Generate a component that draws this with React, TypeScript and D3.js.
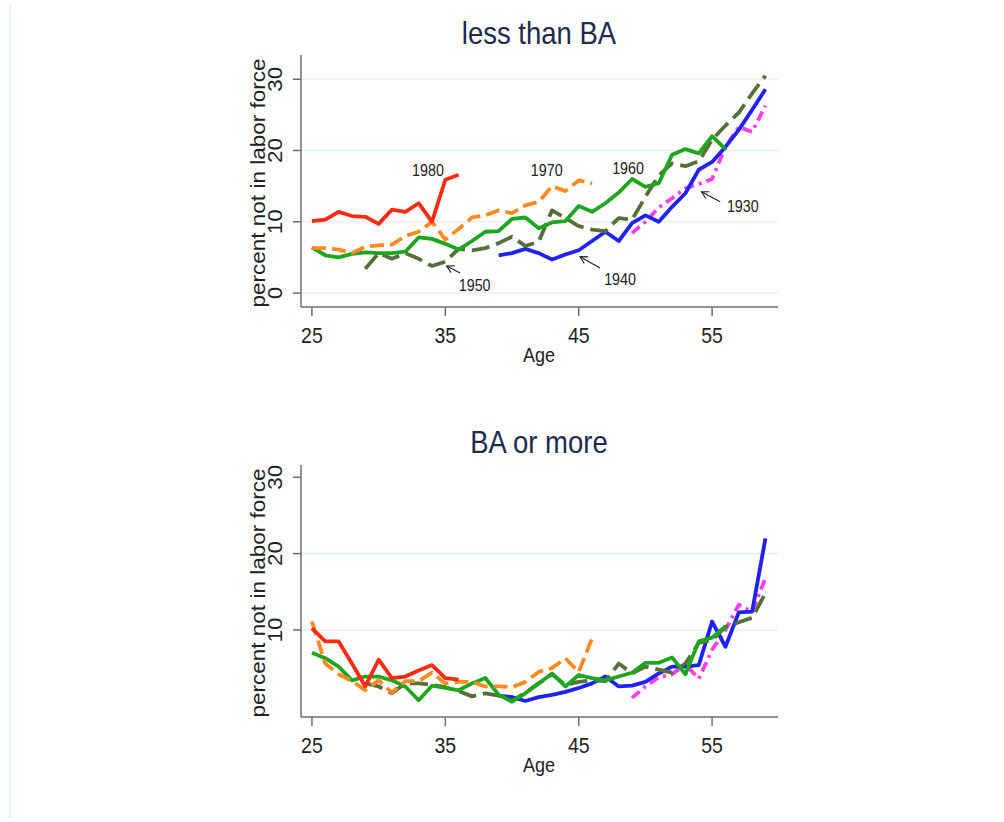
import * as d3 from 'd3';

// cohorts, drawn in this order (later ones on top)
const cohorts = ['1930', '1940', '1950', '1960', '1970', '1980'];
const cohortColors = ['#ff3cf0', '#1f22f2', '#56703a', '#1fa61f', '#ff8a1f', '#ff2a14'];
const cohortDashes: (string | null)[] = ['10 5 3 5', null, '18 7', null, '14 6', null];

// first age observed for each cohort
const startAges = [49, 39, 29, 25, 25, 25];

// less than BA: percent not in labor force, by age
const lessBA1930 = [8.4, 10.0, 12.0, 13.3, 14.7, 15.3, 16.0, 20.5, 23.3, 22.6, 26.3];
const lessBA1940 = [5.3, 5.6, 6.2, 5.6, 4.7, 5.4, 6.0, 7.3, 8.6, 7.3, 9.8, 10.9, 10.0, 12.1, 14.0, 17.3, 18.4, 20.5, 22.9, 25.7, 28.6];
const lessBA1950 = [3.4, 5.6, 4.8, 5.6, 4.8, 3.8, 4.4, 6.2, 6.0, 6.3, 7.0, 7.9, 6.6, 7.2, 11.6, 10.5, 9.4, 8.9, 8.7, 10.5, 10.3, 13.5, 16.5, 18.2, 17.8, 18.5, 21.5, 23.5, 25.3, 28.0, 30.5];
const lessBA1960 = [6.4, 5.3, 5.0, 5.5, 5.7, 5.6, 5.6, 5.8, 7.8, 7.6, 6.9, 6.1, 7.3, 8.6, 8.7, 10.4, 10.6, 9.1, 9.9, 10.1, 12.2, 11.4, 12.6, 14.1, 16.0, 14.9, 15.4, 19.4, 20.2, 19.6, 22.0, 20.2];
const lessBA1970 = [6.3, 6.3, 6.1, 5.6, 6.5, 6.7, 6.8, 8.0, 8.6, 10.0, 7.5, 9.0, 10.6, 10.9, 11.6, 11.2, 12.3, 12.8, 15.0, 14.3, 15.8, 15.4];
const lessBA1980 = [10.1, 10.3, 11.4, 10.8, 10.7, 9.7, 11.7, 11.4, 12.6, 10.0, 15.9, 16.6];

// BA or more
const ba1930 = [1.1, 2.6, 3.8, 4.2, 5.5, 3.6, 7.4, 10.0, 13.3, 12.4, 16.8];
const ba1940 = [1.4, 1.2, 0.7, 1.2, 1.5, 1.9, 2.4, 3.0, 3.9, 2.6, 2.7, 3.2, 4.3, 5.2, 5.2, 5.4, 11.1, 7.8, 12.3, 12.4, 22.0];
const ba1950 = [3.0, 2.6, 1.7, 3.0, 3.0, 2.8, 2.5, 2.0, 1.3, 1.7, 1.4, 0.7, 1.8, 3.0, 4.2, 2.8, 3.2, 3.4, 3.3, 5.6, 4.3, 5.2, 4.8, 4.4, 5.6, 8.3, 8.7, 10.4, 11.0, 11.6, 14.8];
const ba1960 = [7.0, 6.3, 5.2, 3.4, 3.9, 3.9, 3.4, 2.6, 0.8, 2.7, 2.4, 2.1, 3.0, 3.7, 1.5, 0.6, 1.7, 3.0, 4.3, 2.6, 4.1, 3.7, 3.4, 3.9, 4.4, 5.7, 5.7, 6.4, 4.2, 8.5, 9.0, 10.5];
const ba1970 = [11.1, 5.6, 4.2, 3.3, 2.1, 3.4, 1.8, 3.3, 3.3, 4.4, 3.0, 3.2, 3.2, 2.6, 2.6, 2.5, 3.2, 4.5, 5.0, 6.3, 4.5, 8.9];
const ba1980 = [10.2, 8.5, 8.5, 5.6, 2.6, 6.1, 3.7, 3.9, 4.7, 5.4, 3.7, 3.5];

const lessBASeries = [lessBA1930, lessBA1940, lessBA1950, lessBA1960, lessBA1970, lessBA1980];
const baSeries = [ba1930, ba1940, ba1950, ba1960, ba1970, ba1980];

const ageTicks = [25, 35, 45, 55];
const topYTicks = [0, 10, 20, 30];
const bottomYTicks = [10, 20, 30];
const topGrid = [0, 10, 20, 30];
const bottomGrid = [10, 20];

// cohort labels in the upper panel (age, value)
const labelTexts = ['1980', '1970', '1960', '1930', '1940', '1950'];
const labelAges = [33.7, 42.6, 48.7, 57.3, 48.1, 37.2];
const labelValues = [17.3, 17.3, 17.5, 12.2, 1.9, 1.1];
// arrows: tail -> head
const arrowTails = [[55.6, 12.8], [46.6, 3.5], [36.1, 2.8]];
const arrowHeads = [[54.2, 14.2], [45.1, 5.1], [35.1, 3.8]];

const W = 1004;
const H = 822;
const STRETCH = 1.15; // the chart is slightly stretched vertically
const FONT = "'Liberation Sans', Arial, sans-serif";

const x = d3.scaleLinear().domain([24.18, 59.94]).range([301, 778]);

function HText({ px, py, size, children, fill = '#222', anchor = 'middle', dy = '0.35em' }: any) {
  return (
    <text
      transform={`translate(${px},${py}) scale(1,${STRETCH})`}
      textAnchor={anchor}
      dy={dy}
      fontSize={size}
      fontFamily={FONT}
      fill={fill}
    >
      {children}
    </text>
  );
}

function VText({ px, py, size, children, fill = '#222' }: any) {
  return (
    <text
      transform={`translate(${px},${py}) rotate(-90) scale(${STRETCH},1)`}
      textAnchor="middle"
      dy="0.35em"
      fontSize={size}
      fontFamily={FONT}
      fill={fill}
    >
      {children}
    </text>
  );
}

function Panel({ title, titleY, yDomain, yRange, yTicks, grid, series, annotate }: any) {
  const y = d3.scaleLinear().domain(yDomain).range(yRange);
  const [axisBottom, axisTop] = yRange;
  const [x0, x1] = x.range();

  return (
    <g>
      <HText px={539} py={titleY} size={27.5} fill="#1c2b4e" dy="0">{title}</HText>

      {grid.map((v: number) => (
        <line key={'g' + v} x1={x0} x2={x1} y1={y(v)} y2={y(v)} stroke="#e8f1f2" strokeWidth={1.6} />
      ))}

      {series.map((vals: number[], i: number) => {
        const start = startAges[i];
        const line = d3.line<number>()
          .x((_, j) => x(start + j))
          .y(d => y(d));
        return (
          <path
            key={cohorts[i]}
            d={line(vals) || ''}
            fill="none"
            stroke={cohortColors[i]}
            strokeWidth={3.8}
            strokeDasharray={cohortDashes[i] || undefined}
            strokeLinejoin="round"
          />
        );
      })}

      {/* axes */}
      <line x1={x0} x2={x0} y1={axisTop} y2={axisBottom} stroke="#6e6e6e" strokeWidth={1.5} />
      <line x1={x0} x2={x1} y1={axisBottom} y2={axisBottom} stroke="#6e6e6e" strokeWidth={1.5} />
      {yTicks.map((v: number) => (
        <g key={'y' + v}>
          <line x1={x0 - 8} x2={x0} y1={y(v)} y2={y(v)} stroke="#6e6e6e" strokeWidth={1.5} />
          <VText px={275.5} py={y(v)} size={19.5}>{v}</VText>
        </g>
      ))}
      {ageTicks.map(a => (
        <g key={'x' + a}>
          <line x1={x(a)} x2={x(a)} y1={axisBottom} y2={axisBottom + 9} stroke="#6e6e6e" strokeWidth={1.5} />
          <HText px={x(a)} py={axisBottom + 28.5} size={19.5}>{a}</HText>
        </g>
      ))}
      <HText px={539} py={axisBottom + 55} size={18} dy="0">Age</HText>
      <VText px={258} py={(axisTop + axisBottom) / 2 + 2} size={19.6}>percent not in labor force</VText>

      {annotate && labelTexts.map((t, i) => (
        <HText key={'l' + t} px={x(labelAges[i])} py={y(labelValues[i])} size={14.3}>{t}</HText>
      ))}
      {annotate && arrowTails.map((tail, i) => {
        const tx = x(tail[0]);
        const ty = y(tail[1]);
        const hx = x(arrowHeads[i][0]);
        const hy = y(arrowHeads[i][1]);
        const ang = Math.atan2(ty - hy, tx - hx);
        const len = 8;
        const spread = 0.5;
        const p1 = [hx + len * Math.cos(ang - spread), hy + len * Math.sin(ang - spread)];
        const p2 = [hx + len * Math.cos(ang + spread), hy + len * Math.sin(ang + spread)];
        return (
          <g key={'a' + i} stroke="#222" strokeWidth={1.1} fill="none">
            <line x1={tx} y1={ty} x2={hx} y2={hy} />
            <polyline points={`${p1[0]},${p1[1]} ${hx},${hy} ${p2[0]},${p2[1]}`} />
          </g>
        );
      })}
    </g>
  );
}

export default function App() {
  return (
    <svg
      width={W}
      height={H}
      viewBox={`0 0 ${W} ${H}`}
      style={{ position: 'absolute', left: 0, top: 0, background: '#fff' }}
    >
      <rect width={W} height={H} fill="#fff" />
      <line x1={10} x2={10} y1={5} y2={818} stroke="#d8eef5" strokeWidth={1.5} />
      <Panel
        title="less than BA"
        titleY={44}
        yDomain={[-1.96, 33.4]}
        yRange={[307, 55]}
        yTicks={topYTicks}
        grid={topGrid}
        series={lessBASeries}
        annotate
      />
      <Panel
        title="BA or more"
        titleY={453}
        yDomain={[-1.4, 31.6]}
        yRange={[717, 465]}
        yTicks={bottomYTicks}
        grid={bottomGrid}
        series={baSeries}
        annotate={false}
      />
    </svg>
  );
}
